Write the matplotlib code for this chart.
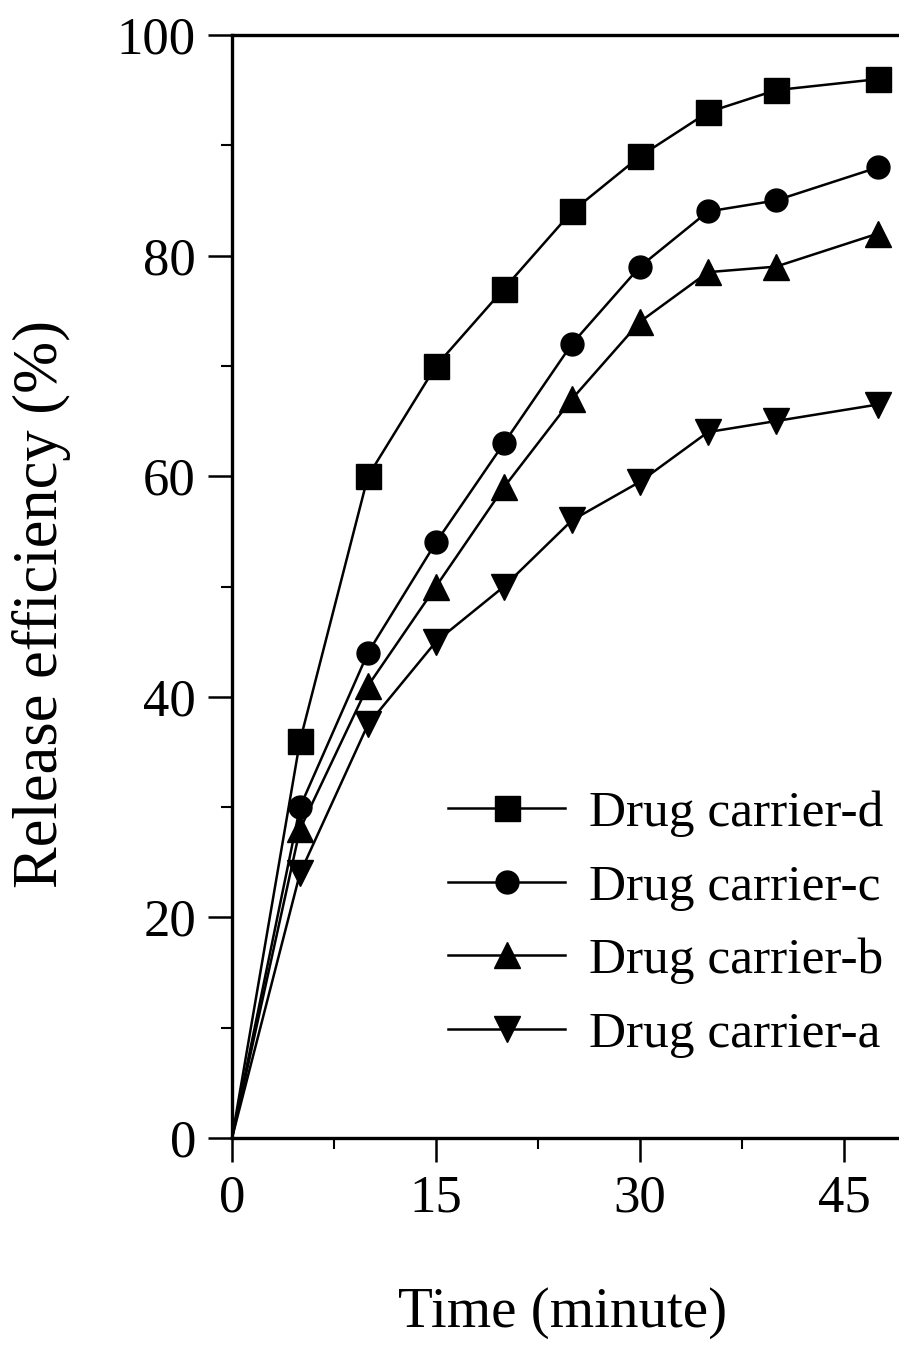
import matplotlib
matplotlib.use("Agg")
import matplotlib.pyplot as plt
from matplotlib.ticker import MultipleLocator

# Sampling times (minutes)
time_min = [0, 5, 10, 15, 20, 25, 30, 35, 40, 47.5]

# Cumulative release efficiency (%) for each carrier
carrier_d = [0, 36, 60, 70, 77, 84, 89, 93, 95, 96]
carrier_c = [0, 30, 44, 54, 63, 72, 79, 84, 85, 88]
carrier_b = [0, 28, 41, 50, 59, 67, 74, 78.5, 79, 82]
carrier_a = [0, 24, 37.5, 45, 50, 56, 59.5, 64, 65, 66.5]

series_labels = ["Drug carrier-d", "Drug carrier-c", "Drug carrier-b", "Drug carrier-a"]
series_values = [carrier_d, carrier_c, carrier_b, carrier_a]
series_markers = ["s", "o", "^", "v"]
series_msize = [18, 16.5, 18.5, 18.5]

x_major_ticks = [0, 15, 30, 45]
y_major_ticks = [0, 20, 40, 60, 80, 100]

plt.rcParams["font.family"] = ["Liberation Serif", "DejaVu Serif"]

W, H = 899, 1347
fig = plt.figure(figsize=(W / 100, H / 100), dpi=100)

left_px, right_px = 232, 912
top_px, bottom_px = 35, 1138
ax = fig.add_axes([left_px / W, 1 - bottom_px / H,
                   (right_px - left_px) / W, (bottom_px - top_px) / H])

handles = []
for vals, lab, mk, ms in zip(series_values, series_labels, series_markers, series_msize):
    # the starting point at t = 0 carries no symbol
    h, = ax.plot(time_min, vals, color="black", lw=1.8, marker=mk,
                 markevery=slice(1, None),
                 markersize=ms, markerfacecolor="black",
                 markeredgecolor="black", markeredgewidth=1.0,
                 label=lab, clip_on=False, zorder=3)
    handles.append(h)

ax.set_xlim(0, 50)
ax.set_ylim(0, 100)

for side in ("left", "bottom", "top"):
    ax.spines[side].set_linewidth(2.4)
ax.spines["right"].set_visible(False)

ax.set_xticks(x_major_ticks)
ax.set_yticks(y_major_ticks)
ax.xaxis.set_minor_locator(MultipleLocator(7.5))
ax.yaxis.set_minor_locator(MultipleLocator(10))
ax.tick_params(axis="both", which="major", direction="out", length=17,
               width=1.8, labelsize=38, pad=9)
ax.tick_params(axis="both", which="minor", direction="out", length=8,
               width=1.5)
ax.tick_params(top=False, right=False, which="both")

fig.text(42 / W, 1 - 604 / H, "Release efficiency (%)", rotation=90,
         ha="center", va="center", fontsize=45)
fig.text(563 / W, 1 - 1313 / H, "Time (minute)", ha="center",
         va="center", fontsize=41)

ax.legend(handles=handles, loc="upper left",
          bbox_to_anchor=(448 / W, 1 - 790 / H),
          bbox_transform=fig.transFigure, frameon=False, borderpad=0,
          borderaxespad=0, handlelength=2.28, handletextpad=0.47,
          labelspacing=0.52, fontsize=37)

fig.savefig("out.png", dpi=100, facecolor="white")
